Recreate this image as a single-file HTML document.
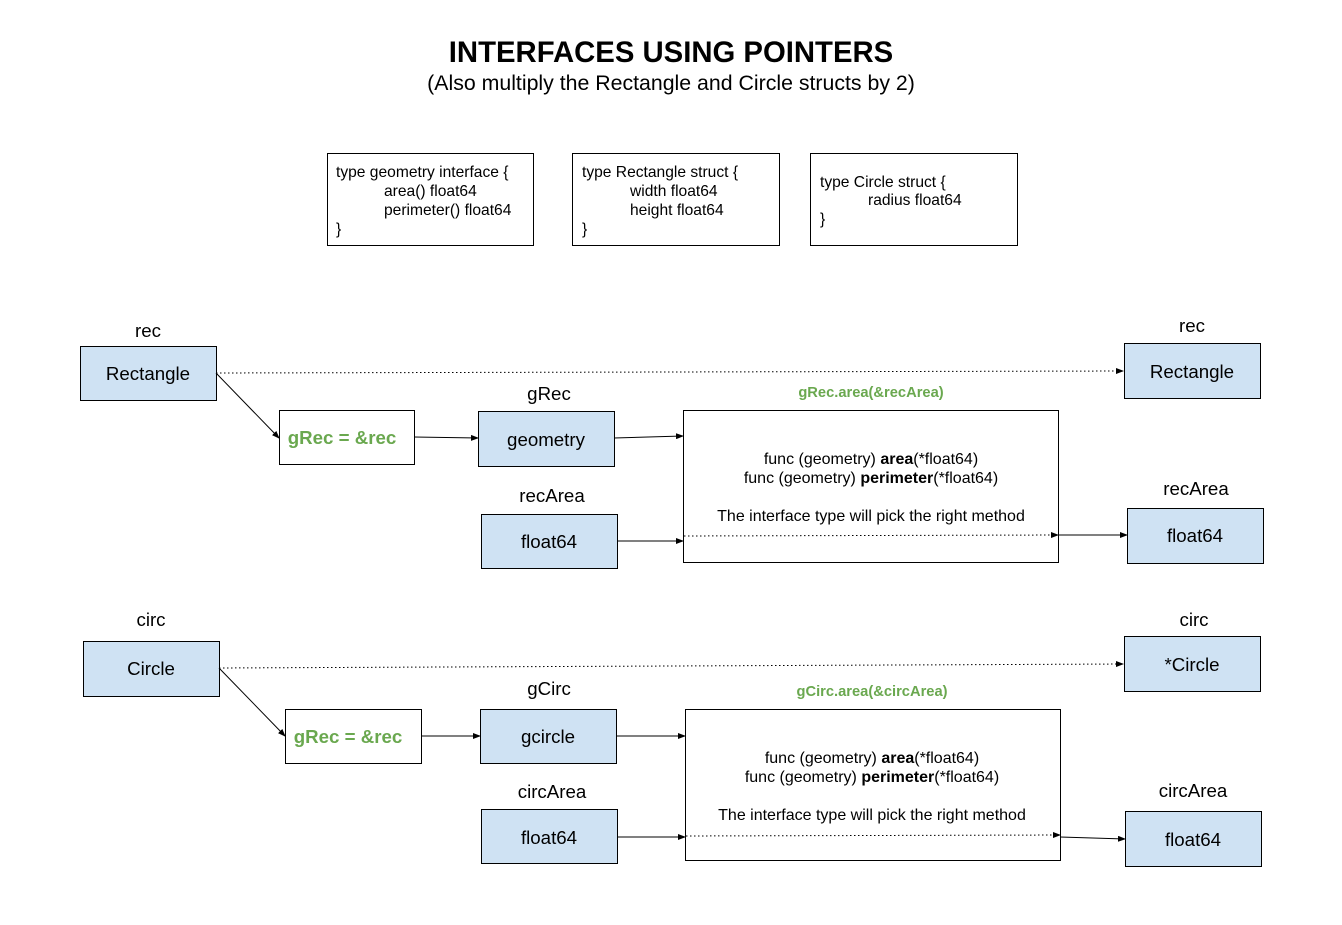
<!DOCTYPE html>
<html><head><meta charset="utf-8"><style>
html,body{margin:0;padding:0;background:#fff;}
svg{display:block;font-family:"Liberation Sans",Arial,sans-serif;}
</style></head><body>
<svg width="1342" height="925" viewBox="0 0 1342 925" xmlns="http://www.w3.org/2000/svg">
<defs>
<marker id="a" markerWidth="8" markerHeight="6" refX="7" refY="3" orient="auto" markerUnits="userSpaceOnUse">
<path d="M0,0 L8,3 L0,6 z" fill="#000"/></marker>
</defs>
<rect width="1342" height="925" fill="#fff"/>
<text x="671" y="62" text-anchor="middle" font-size="29.3" font-weight="bold">INTERFACES USING POINTERS</text>
<text x="671" y="90" text-anchor="middle" font-size="21.3">(Also multiply the Rectangle and Circle structs by 2)</text>

<g fill="#fff" stroke="#000" stroke-width="1">
<rect x="327.5" y="153.5" width="206" height="92"/>
<rect x="572.5" y="153.5" width="207" height="92"/>
<rect x="810.5" y="153.5" width="207" height="92"/>
</g>
<g font-size="15.6">
<text x="336" y="177">type geometry interface {</text>
<text x="384" y="196">area() float64</text>
<text x="384" y="215">perimeter() float64</text>
<text x="336" y="234">}</text>
<text x="582" y="177">type Rectangle struct {</text>
<text x="630" y="196">width  float64</text>
<text x="630" y="215">height float64</text>
<text x="582" y="234">}</text>
<text x="820" y="187">type Circle struct {</text>
<text x="868" y="205">radius float64</text>
<text x="820" y="224">}</text>
</g>

<!-- Section 1 -->
<g stroke="#000" stroke-width="1">
<rect x="80.5" y="346.5" width="136" height="54" fill="#cfe2f3"/>
<rect x="279.5" y="410.5" width="135" height="54" fill="#fff"/>
<rect x="478.5" y="411.5" width="136" height="55" fill="#cfe2f3"/>
<rect x="481.5" y="514.5" width="136" height="54" fill="#cfe2f3"/>
<rect x="683.5" y="410.5" width="375" height="152" fill="#fff"/>
<rect x="1124.5" y="343.5" width="136" height="55" fill="#cfe2f3"/>
<rect x="1127.5" y="508.5" width="136" height="55" fill="#cfe2f3"/>
</g>
<g stroke="#000" stroke-width="1" fill="none">
<line x1="216" y1="373" x2="1123" y2="371" stroke-dasharray="1.5,2.5" marker-end="url(#a)"/>
<line x1="216" y1="373" x2="279" y2="438" marker-end="url(#a)"/>
<line x1="414" y1="437" x2="478" y2="438" marker-end="url(#a)"/>
<line x1="614" y1="438" x2="683" y2="436" marker-end="url(#a)"/>
<line x1="617" y1="541" x2="683" y2="541" marker-end="url(#a)"/>
<line x1="684" y1="536" x2="1058" y2="535" stroke-dasharray="1.5,2.5" marker-end="url(#a)"/>
<line x1="1058" y1="535" x2="1127" y2="535" marker-end="url(#a)"/>
</g>
<g font-size="18.7" text-anchor="middle">
<text x="148" y="337">rec</text>
<text x="148" y="380">Rectangle</text>
<text x="342" y="444" fill="#6aa84f" font-weight="bold">gRec = &amp;rec</text>
<text x="549" y="400">gRec</text>
<text x="546" y="446">geometry</text>
<text x="552" y="502">recArea</text>
<text x="549" y="548">float64</text>
<text x="1192" y="332">rec</text>
<text x="1192" y="378">Rectangle</text>
<text x="1196" y="495">recArea</text>
<text x="1195" y="542">float64</text>
</g>
<text x="871" y="397" text-anchor="middle" font-size="14.7" font-weight="bold" fill="#6aa84f">gRec.area(&amp;recArea)</text>
<g font-size="16" text-anchor="middle">
<text x="871" y="464">func (geometry) <tspan font-weight="bold">area</tspan>(*float64)</text>
<text x="871" y="483">func (geometry) <tspan font-weight="bold">perimeter</tspan>(*float64)</text>
<text x="871" y="521">The interface type will pick the right method</text>
</g>

<!-- Section 2 -->
<g stroke="#000" stroke-width="1">
<rect x="83.5" y="641.5" width="136" height="55" fill="#cfe2f3"/>
<rect x="285.5" y="709.5" width="136" height="54" fill="#fff"/>
<rect x="480.5" y="709.5" width="136" height="54" fill="#cfe2f3"/>
<rect x="481.5" y="809.5" width="136" height="54" fill="#cfe2f3"/>
<rect x="685.5" y="709.5" width="375" height="151" fill="#fff"/>
<rect x="1124.5" y="636.5" width="136" height="55" fill="#cfe2f3"/>
<rect x="1125.5" y="811.5" width="136" height="55" fill="#cfe2f3"/>
</g>
<g stroke="#000" stroke-width="1" fill="none">
<line x1="219" y1="668" x2="1123" y2="664" stroke-dasharray="1.5,2.5" marker-end="url(#a)"/>
<line x1="219" y1="668" x2="285" y2="736" marker-end="url(#a)"/>
<line x1="421" y1="736" x2="480" y2="736" marker-end="url(#a)"/>
<line x1="616" y1="736" x2="685" y2="736" marker-end="url(#a)"/>
<line x1="617" y1="837" x2="685" y2="837" marker-end="url(#a)"/>
<line x1="686" y1="836" x2="1060" y2="835" stroke-dasharray="1.5,2.5" marker-end="url(#a)"/>
<line x1="1060" y1="837" x2="1125" y2="839" marker-end="url(#a)"/>
</g>
<g font-size="18.7" text-anchor="middle">
<text x="151" y="626">circ</text>
<text x="151" y="675">Circle</text>
<text x="348" y="743" fill="#6aa84f" font-weight="bold">gRec = &amp;rec</text>
<text x="549" y="695">gCirc</text>
<text x="548" y="743">gcircle</text>
<text x="552" y="798">circArea</text>
<text x="549" y="844">float64</text>
<text x="1194" y="626">circ</text>
<text x="1192" y="671">*Circle</text>
<text x="1193" y="797">circArea</text>
<text x="1193" y="846">float64</text>
</g>
<text x="872" y="696" text-anchor="middle" font-size="14.7" font-weight="bold" fill="#6aa84f">gCirc.area(&amp;circArea)</text>
<g font-size="16" text-anchor="middle">
<text x="872" y="763">func (geometry) <tspan font-weight="bold">area</tspan>(*float64)</text>
<text x="872" y="782">func (geometry) <tspan font-weight="bold">perimeter</tspan>(*float64)</text>
<text x="872" y="820">The interface type will pick the right method</text>
</g>
</svg>
</body></html>
